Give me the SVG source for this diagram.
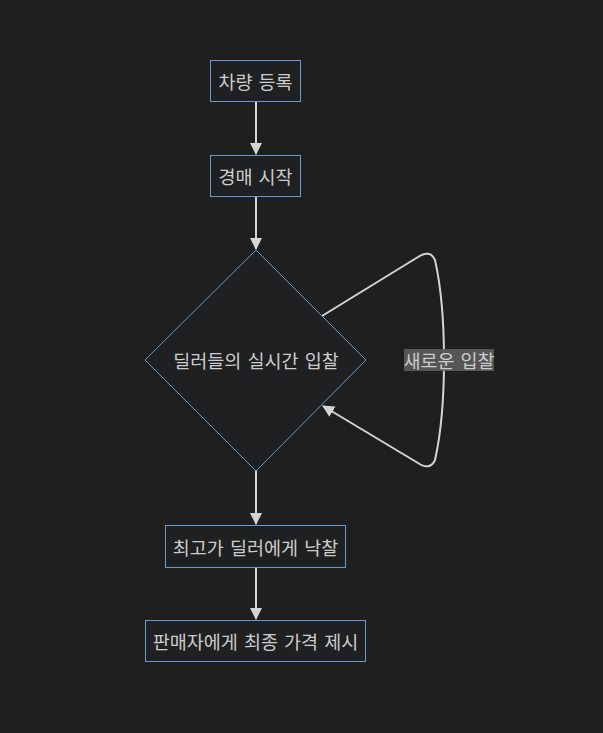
<svg xmlns="http://www.w3.org/2000/svg" width="603" height="733" viewBox="0 0 603 733">
<style>
.node{fill:#1f2021;stroke:#6b9acb;stroke-width:1}
.lbl{font-family:"Noto Sans CJK KR","Noto Sans",sans-serif;font-size:18.5px;fill:#cccccc;text-anchor:middle;dominant-baseline:central;word-spacing:2px}
.edge{fill:none;stroke:#d4d4d4;stroke-width:2}
</style>
<defs>
<marker id="arr" viewBox="0 0 12 12" refX="11" refY="6" markerWidth="12" markerHeight="12" markerUnits="userSpaceOnUse" orient="auto">
<path d="M0,0 L12,6 L0,12 z" fill="#d4d4d4"/>
</marker>
</defs>
<rect width="603" height="733" fill="#1f1f1f"/>
<g id="edges">
<path class="edge" d="M256,101 L256,154" marker-end="url(#arr)"/>
<path class="edge" d="M256,196 L256,249" marker-end="url(#arr)"/>
<path class="edge" d="M256,471 L256,524" marker-end="url(#arr)"/>
<path class="edge" d="M256,567 L256,619" marker-end="url(#arr)"/>
<path class="edge" d="M322,316 L418,257 Q430,249 435,260 Q444,300 444,360 Q444,420 435,460 Q430,471 418,463 L323,406" marker-end="url(#arr)"/>
<rect x="404" y="349" width="90" height="22" fill="#595959" opacity="0.95"/>
<text class="lbl" x="449" y="360">새로운 입찰</text>
</g>
<g id="n1"><rect class="node" x="210.5" y="60.5" width="90" height="41"/><text class="lbl" x="255.5" y="81">차량 등록</text></g>
<g id="n2"><rect class="node" x="210.5" y="155.5" width="90" height="41"/><text class="lbl" x="255.5" y="176">경매 시작</text></g>
<g id="n3"><polygon class="node" points="256,250 366,360 256,471 145,360"/><text class="lbl" x="256" y="360">딜러들의 실시간 입찰</text></g>
<g id="n4"><rect class="node" x="165.5" y="525.5" width="180" height="42"/><text class="lbl" x="255.5" y="546.5">최고가 딜러에게 낙찰</text></g>
<g id="n5"><rect class="node" x="145.5" y="620.5" width="220" height="41"/><text class="lbl" x="255.5" y="641">판매자에게 최종 가격 제시</text></g>
</svg>
